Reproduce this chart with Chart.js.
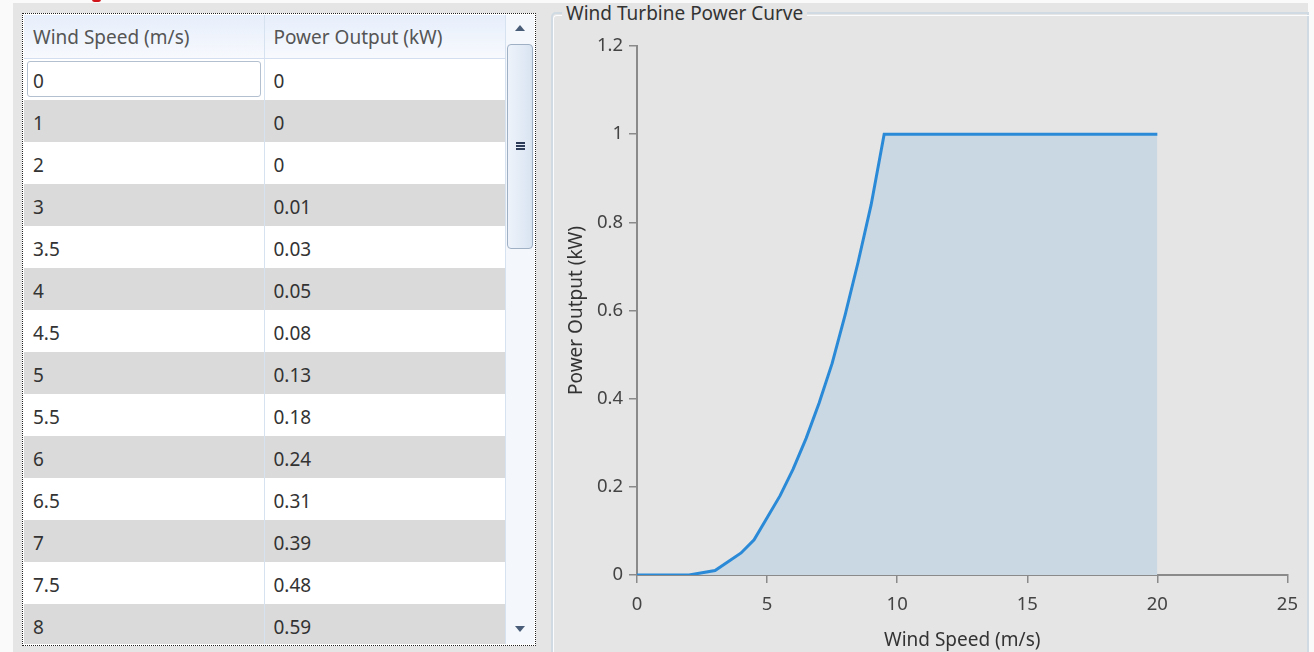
<!DOCTYPE html>
<html>
<head>
<meta charset="utf-8">
<title>Wind Turbine Power Curve</title>
<script src="https://cdn.jsdelivr.net/npm/chart.js@4.4.1/dist/chart.umd.min.js"></script>
<style>
    html, body { margin: 0; padding: 0; background: #fafafa; }
    body { width: 1314px; height: 652px; overflow: hidden; position: relative; font-family: 'Noto Sans', sans-serif; }
    #panel { position: absolute; left: 13px; top: 3px; width: 1295px; height: 649px; background: #e5e5e5; }
    #redmark { position: absolute; left: 79px; top: -6px; width: 9px; height: 5px; border-radius: 4px; background: #d0141a; }

    /* 左の表 (パネル内の座標) */
    #grid { position: absolute; left: 9px; top: 10px; width: 512px; height: 631px; border: 1px dotted #222; overflow: hidden; background: #fff; }
    #rows { position: absolute; left: 1px; top: 1px; width: 482px; height: 629px; overflow: hidden; }
    #table { border-collapse: collapse; width: 482px; table-layout: fixed; font-size: 19px; color: #333; }
    #table th { height: 43px; padding: 1px 0 0 9px; text-align: left; font-weight: normal; color: #555; box-sizing: border-box;
        background: linear-gradient(#e6eefb, #f7f9fd); border-bottom: 1px solid #d3dff0; border-right: 1px solid #d6e2f0; }
    #table th:first-child, #table td:first-child { width: 240px; }
    #table td { height: 42px; padding: 3px 0 0 9px; border-right: 1px solid #d6e2f0; box-sizing: border-box; }
    #table tr:nth-child(even) td { background: #fff; }
    #table tr:nth-child(odd) td { background: #dadada; }
    #table td.sel { position: relative; }
    #table td.sel span { position: absolute; left: 3px; top: 2px; right: 3px; bottom: 3px; border: 1px solid #b3c0cf; border-radius: 3px; }
    #table td.sel b { position: relative; font-weight: normal; }

    #scroll { position: absolute; left: 483px; top: 1px; width: 28px; height: 629px; background: #f4f7fb; }
    #scroll .up { position: absolute; left: 9px; top: 10px; width: 0; height: 0; border-left: 5px solid transparent; border-right: 5px solid transparent; border-bottom: 6px solid #4a5d78; }
    #scroll .down { position: absolute; left: 9px; top: 611px; width: 0; height: 0; border-left: 5px solid transparent; border-right: 5px solid transparent; border-top: 6px solid #4a5d78; }
    #scroll .thumb { position: absolute; left: 1px; top: 29px; width: 24px; height: 203px; border: 1px solid #9fb0c4; border-radius: 4px;
        background: linear-gradient(to right, #eef3fa, #d9e4f2); }
    #scroll .grip { position: absolute; left: 8px; top: 97px; width: 9px; height: 2px; background: #2b3b58; box-shadow: 0 3px 0 #2b3b58, 0 6px 0 #2b3b58; }

    fieldset { position: absolute; margin: 0; padding: 0; box-sizing: border-box; }
    fieldset legend { margin-left: 9px; padding: 0 4px; font-size: 19px; line-height: 24px; color: #333; }
    #group { left: 538px; top: -2px; width: 758px; height: 660px; border: 2px solid #d0dae3; border-radius: 5px 0 0 0; }
    #group2 { left: 540px; top: 0px; width: 756px; height: 660px; border: 1px solid #fbfcfd; border-right: none; border-radius: 4px 0 0 0; }
    #group2 legend { margin-left: 8px; visibility: hidden; }

    #chartbox { position: absolute; left: 543px; top: 19px; width: 753px; height: 630px; }
</style>
</head>
<body>
<div id="panel">
    <div id="redmark"></div>
    <div id="grid">
        <div id="rows"><table id="table"></table></div>
        <div id="scroll"><div class="up"></div><div class="thumb"><div class="grip"></div></div><div class="down"></div></div>
    </div>
    <fieldset id="group"><legend>Wind Turbine Power Curve</legend></fieldset>
    <fieldset id="group2"><legend>Wind Turbine Power Curve</legend></fieldset>
    <div id="chartbox"><canvas id="graph" width="753" height="630"></canvas></div>
</div>

<script>
// 風速 (m/s) と出力 (kW)
var speeds = [0, 1, 2, 3, 3.5, 4, 4.5, 5, 5.5, 6, 6.5, 7, 7.5, 8, 8.5, 9, 9.5,
              10, 10.5, 11, 11.5, 12, 12.5, 13, 13.5, 14, 14.5, 15, 15.5, 16, 16.5, 17, 17.5, 18, 18.5, 19, 19.5, 20];
var power  = [0, 0, 0, 0.01, 0.03, 0.05, 0.08, 0.13, 0.18, 0.24, 0.31, 0.39, 0.48, 0.59, 0.71, 0.84, 1,
              1, 1, 1, 1, 1, 1, 1, 1, 1, 1, 1, 1, 1, 1, 1, 1, 1, 1, 1, 1, 1];
var headers = ['Wind Speed (m/s)', 'Power Output (kW)'];
var xTicks = [0, 5, 10, 15, 20, 25];
var yTicks = [0, 0.2, 0.4, 0.6, 0.8, 1, 1.2];

// 表を作る
var table = document.getElementById('table');
var head = table.insertRow(-1);
for (var h = 0; h < headers.length; h++) {
    var th = document.createElement('th');
    th.innerText = headers[h];
    head.appendChild(th);
}
for (var i = 0; i < speeds.length; i++) {
    var row = table.insertRow(-1);
    var c0 = row.insertCell(-1);
    var c1 = row.insertCell(-1);
    if (i == 0) {
        c0.className = 'sel';
        c0.innerHTML = '<span></span><b>' + speeds[i] + '</b>';
    } else {
        c0.innerText = speeds[i];
    }
    c1.innerText = power[i];
}

// グラフ
function create_Graph() {
    var ctx = document.getElementById('graph').getContext('2d');
    Chart.defaults.font.family = "'Noto Sans', sans-serif";

    var points = [];
    for (var i = 0; i < speeds.length; i++) {
        points.push({ x: speeds[i], y: power[i] });
    }

    var axisColor = '#8a8a8a';

    window.myLine = new Chart(ctx, {
        type: 'line',
        data: {
            datasets: [{
                label: 'Power Output (kW)',
                data: points,
                borderColor: '#2b8ad7',
                borderWidth: 3,
                backgroundColor: '#c9d8e3',
                fill: 'origin',
                pointRadius: 0,
                tension: 0,
            }]
        },
        options: {
            responsive: false,
            animation: false,
            layout: { padding: { top: 24, right: 16, left: 0, bottom: 0 } },
            plugins: {
                legend: { display: false },
                tooltip: { enabled: false },
            },
            scales: {
                x: {
                    type: 'linear',
                    min: xTicks[0],
                    max: xTicks[xTicks.length - 1],
                    afterBuildTicks: function (scale) { scale.ticks = xTicks.map(function (v) { return { value: v }; }); },
                    afterFit: function (scale) { scale.height = 77; },
                    ticks: { color: '#444', font: { size: 18.5 }, padding: 11, maxRotation: 0 },
                    grid: { drawOnChartArea: false, tickLength: 8, color: axisColor, lineWidth: 1.5 },
                    border: { color: axisColor, width: 2 },
                    title: { display: true, text: 'Wind Speed (m/s)', color: '#333', font: { size: 19 }, padding: { top: 0, bottom: 0 } },
                },
                y: {
                    min: yTicks[0],
                    max: yTicks[yTicks.length - 1],
                    afterBuildTicks: function (scale) { scale.ticks = yTicks.map(function (v) { return { value: v }; }); },
                    afterFit: function (scale) { scale.width = 81; },
                    ticks: { color: '#444', font: { size: 18.5 }, padding: 6, callback: function (v) { return String(v); } },
                    grid: { drawOnChartArea: false, tickLength: 8, color: axisColor, lineWidth: 1.5 },
                    border: { color: axisColor, width: 2 },
                    title: { display: true, text: 'Power Output (kW)', color: '#333', font: { size: 19 }, padding: { top: 9, bottom: 0 } },
                },
            },
        },
    });
}

create_Graph();
</script>
</body>
</html>
